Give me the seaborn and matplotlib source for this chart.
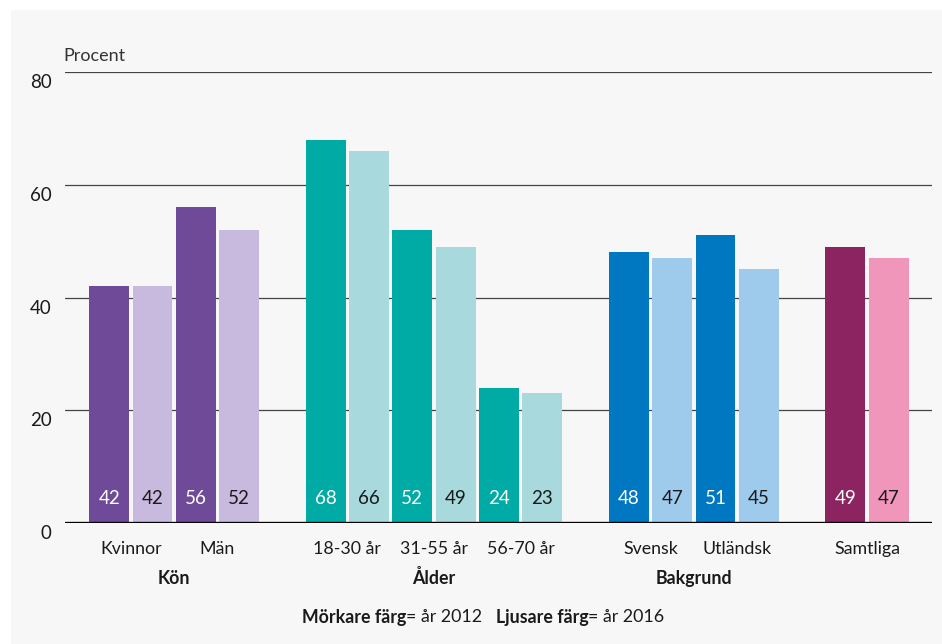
import matplotlib
matplotlib.use('Agg')
import matplotlib.pyplot as plt
import matplotlib.transforms as mtransforms
from matplotlib.patches import Rectangle
from matplotlib.offsetbox import TextArea, HPacker, AnchoredOffsetbox
import pandas as pd
import seaborn as sns

# data
groups = ['Kön', 'Ålder', 'Bakgrund', '']
categories = ['Kvinnor', 'Män', '18-30 år', '31-55 år', '56-70 år',
              'Svensk', 'Utländsk', 'Samtliga']
category_group = [0, 0, 1, 1, 1, 2, 2, 3]
values_2012 = [42, 56, 68, 52, 24, 48, 51, 49]
values_2016 = [42, 52, 66, 49, 23, 47, 45, 47]
years = ['2012', '2016']

dark_colors = ['#6f4a99', '#00aaa5', '#0077c1', '#8b2460']
light_colors = ['#c8badf', '#a8d9dd', '#9ecaec', '#f096bb']

# build long table, one empty slot between groups
rows = []
slot = 0
prev_group = category_group[0]
for cat, g, v1, v2 in zip(categories, category_group, values_2012, values_2016):
    if g != prev_group:
        slot += 1
        prev_group = g
    rows.append(dict(pos=slot, value=v1, key=f'{cat} {years[0]}', cat=cat, group=g, year=years[0]))
    rows.append(dict(pos=slot + 1, value=v2, key=f'{cat} {years[1]}', cat=cat, group=g, year=years[1]))
    slot += 2
df = pd.DataFrame(rows)

palette = {r.key: (dark_colors[r.group] if r.year == years[0] else light_colors[r.group])
           for r in df.itertuples()}

sns.set_style('white')
plt.rcParams['font.family'] = ['Lato', 'DejaVu Sans']

fig = plt.figure(figsize=(9.42, 6.44), dpi=100, facecolor='white')
fig.patches.append(Rectangle((11 / 942, 0), 1, 1 - 10 / 644, transform=fig.transFigure,
                             facecolor='#f7f7f7', edgecolor='none', zorder=-10))
ax = fig.add_axes([65 / 942, 1 - 523 / 644, (932 - 65) / 942, (523 - 72) / 644])
ax.set_facecolor('none')

sns.barplot(data=df, x='pos', y='value', hue='key', palette=palette, dodge=False,
            native_scale=True, width=0.92, saturation=1, legend=False, ax=ax, zorder=3,
            linewidth=0, edgecolor='none')

ax.set_xlim(-1.02, 19.0)
ax.set_ylim(0, 80)
ax.set_yticks([0, 20, 40, 60, 80])
for y in [20, 40, 60, 80]:
    ax.axhline(y, color='#444444', lw=0.9, zorder=1)
ax.axhline(0, color='black', lw=2.4, zorder=4)
for s in ax.spines.values():
    s.set_visible(False)
ax.set_xticks([])
ax.set_xlabel('')
ax.set_ylabel('')
ax.tick_params(axis='y', length=0, pad=9.5, labelsize=13.5, labelcolor='#1a1a1a')
offset = mtransforms.ScaledTranslation(0, -9 / 100, fig.dpi_scale_trans)
for lab in ax.get_yticklabels():
    lab.set_transform(lab.get_transform() + offset)

# value labels inside bars
for r in df.itertuples():
    ax.text(r.pos, 4.4, str(r.value), ha='center', va='center', fontsize=13.5,
            color='white' if r.year == years[0] else '#1a1a1a', zorder=5)

# category and group labels
for cat in categories:
    p = df.loc[df.cat == cat, 'pos'].mean()
    ax.text(p, -4.6, cat, ha='center', va='center', fontsize=12.8, color='#1a1a1a', clip_on=False)
for gi, g in enumerate(groups):
    if not g:
        continue
    p = df.loc[df.group == gi, 'pos']
    ax.text((p.min() + p.max()) / 2, -9.8, g, ha='center', va='center', fontsize=12.8,
            fontweight='bold', color='#1a1a1a', clip_on=False)

ax.text(-1.06, 82.9, 'Procent', ha='left', va='center', fontsize=13, color='#333333', clip_on=False)

# legend line with mixed weights
parts = [TextArea('Mörkare färg', textprops=dict(fontsize=12.8, fontweight='bold', color='#1a1a1a')),
         TextArea('= år 2012', textprops=dict(fontsize=12.8, color='#1a1a1a')),
         TextArea('   ', textprops=dict(fontsize=12.8)),
         TextArea('Ljusare färg', textprops=dict(fontsize=12.8, fontweight='bold', color='#1a1a1a')),
         TextArea('= år 2016', textprops=dict(fontsize=12.8, color='#1a1a1a'))]
box = HPacker(children=parts, align='baseline', pad=0, sep=0)
anchored = AnchoredOffsetbox(loc='center', child=box, pad=0, borderpad=0, frameon=False,
                             bbox_to_anchor=(483 / 942, 1 - 617 / 644),
                             bbox_transform=fig.transFigure)
fig.add_artist(anchored)

fig.savefig('out.png', dpi=100, facecolor=fig.get_facecolor())
